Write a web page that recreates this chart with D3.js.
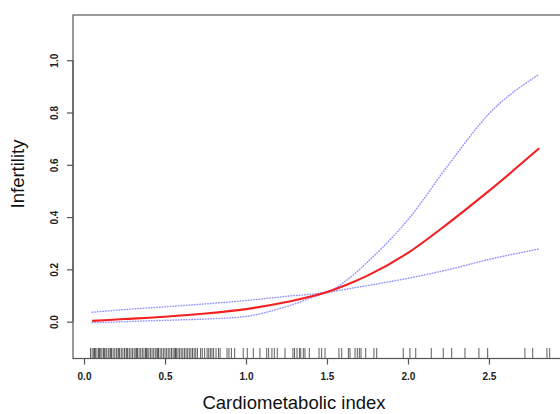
<!DOCTYPE html>
<html>
<head>
<meta charset="utf-8">
<script src="https://cdn.jsdelivr.net/npm/d3@7/dist/d3.min.js"></script>
<style>
  html, body { margin: 0; padding: 0; background: #fff; }
  svg { display: block; }
</style>
</head>
<body>
<div id="chart"></div>
<script>
// ---- data ----
const fitX   = [0.05, 0.25, 0.5, 0.75, 1.0, 1.25, 1.5, 1.625, 1.75, 2.0, 2.25, 2.5, 2.81]
const fitY   = [0.003, 0.010, 0.019, 0.031, 0.048, 0.075, 0.113, 0.142, 0.176, 0.263, 0.377, 0.500, 0.663]
const upperY = [0.036, 0.046, 0.057, 0.068, 0.081, 0.097, 0.114, 0.160, 0.228, 0.390, 0.600, 0.795, 0.946]
const lowerY = [-0.004, 0.000, 0.005, 0.010, 0.020, 0.058, 0.110, 0.125, 0.138, 0.166, 0.199, 0.238, 0.278]

const rugX = [
  0.04, 0.05, 0.06, 0.065, 0.07, 0.08, 0.09, 0.095, 0.10, 0.11, 0.12, 0.125, 0.13, 0.14, 0.15, 0.16,
  0.165, 0.17, 0.18, 0.19, 0.20, 0.21, 0.215, 0.22, 0.23, 0.24, 0.25, 0.26, 0.265, 0.27, 0.28, 0.29,
  0.30, 0.31, 0.32, 0.325, 0.33, 0.34, 0.35, 0.36, 0.37, 0.38, 0.385, 0.39, 0.40, 0.41, 0.42, 0.43,
  0.44, 0.45, 0.455, 0.46, 0.47, 0.48, 0.49, 0.50, 0.51, 0.52, 0.53, 0.54, 0.55, 0.56, 0.565, 0.57,
  0.58, 0.59, 0.60, 0.61, 0.62, 0.63, 0.64, 0.65, 0.66, 0.67, 0.68, 0.69, 0.70,
  0.72, 0.73, 0.745, 0.76, 0.77, 0.78, 0.79, 0.80, 0.815, 0.83, 0.84,
  0.883, 0.895, 0.91, 0.93, 0.983, 1.008, 1.045, 1.086,
  1.128, 1.14, 1.16, 1.175, 1.193, 1.241, 1.29, 1.30, 1.315, 1.33, 1.338, 1.354, 1.364,
  1.391, 1.451, 1.467, 1.488, 1.574, 1.591, 1.632, 1.642, 1.673, 1.687, 1.70, 1.71, 1.739,
  1.79, 1.807, 1.971, 2.012, 2.048, 2.144, 2.218, 2.270, 2.352, 2.438, 2.492, 2.722, 2.770, 2.858, 2.875
]

const xTicks = [0.0, 0.5, 1.0, 1.5, 2.0, 2.5]
const yTicks = [0.0, 0.2, 0.4, 0.6, 0.8, 1.0]

// ---- layout ----
const width = 560
const height = 414
const plot = { left: 73, top: 15, right: 568, bottom: 358.5 }
const font = '"Liberation Sans", Arial, sans-serif'

const x = d3.scaleLinear().domain([-0.068, 2.988]).range([plot.left, plot.right])
const y = d3.scaleLinear().domain([-0.141, 1.173]).range([plot.bottom, plot.top])

const svg = d3.select('#chart').append('svg')
  .attr('width', width).attr('height', height)

// curves
const line = d3.line().curve(d3.curveMonotoneX)

function drawCurve(ys, color, widthPx, dash) {
  const p = svg.append('path')
    .datum(fitX.map((v, i) => [x(v), y(ys[i])]))
    .attr('d', line)
    .attr('fill', 'none')
    .attr('stroke', color)
    .attr('stroke-width', widthPx)
  if (dash) p.attr('stroke-dasharray', dash).attr('stroke-linecap', 'round')
}

drawCurve(upperY, '#9494ff', 1.5, '0.5,2.2')
drawCurve(lowerY, '#9494ff', 1.5, '0.5,2.2')
drawCurve(fitY, '#f22020', 2.1, null)

// rug
svg.append('g').selectAll('line')
  .data(rugX)
  .join('line')
  .attr('x1', d => x(d)).attr('x2', d => x(d))
  .attr('y1', plot.bottom - 10.5).attr('y2', plot.bottom)
  .attr('stroke', '#333').attr('stroke-width', 0.8)

// box
svg.append('rect')
  .attr('x', plot.left).attr('y', plot.top)
  .attr('width', plot.right - plot.left).attr('height', plot.bottom - plot.top)
  .attr('fill', 'none').attr('stroke', '#555').attr('stroke-width', 1.2)

// x axis
const xAxis = svg.append('g')
  .attr('transform', `translate(0,${plot.bottom})`)
  .call(d3.axisBottom(x).tickValues(xTicks).tickSize(6).tickFormat(d3.format('.1f')))
xAxis.select('.domain')
  .attr('d', `M${x(xTicks[0])},0H${x(xTicks[xTicks.length - 1])}`)
  .attr('stroke', '#555').attr('stroke-width', 1.2)
xAxis.selectAll('.tick line').attr('stroke', '#555').attr('stroke-width', 1.2)
xAxis.selectAll('.tick text')
  .attr('y', 14).attr('dy', '0.71em')
  .attr('fill', '#222').attr('font-size', '10px').attr('font-weight', 'bold')
  .attr('font-family', font)

// y axis
const yAxis = svg.append('g')
  .attr('transform', `translate(${plot.left},0)`)
  .call(d3.axisLeft(y).tickValues(yTicks).tickSize(6).tickFormat(d3.format('.1f')))
yAxis.select('.domain')
  .attr('d', `M0,${y(yTicks[0])}V${y(yTicks[yTicks.length - 1])}`)
  .attr('stroke', '#555').attr('stroke-width', 1.2)
yAxis.selectAll('.tick line').attr('stroke', '#555').attr('stroke-width', 1.2)
yAxis.selectAll('.tick text')
  .attr('x', null).attr('dy', null)
  .attr('transform', 'translate(-15,0) rotate(-90)')
  .attr('text-anchor', 'middle')
  .attr('fill', '#222').attr('font-size', '10px').attr('font-weight', 'bold')
  .attr('font-family', font)

// axis titles
svg.append('text')
  .attr('x', 294).attr('y', 409)
  .attr('text-anchor', 'middle')
  .attr('font-size', '18.5px').attr('font-family', font).attr('fill', '#111')
  .text('Cardiometabolic index')

svg.append('text')
  .attr('transform', 'translate(24,174) rotate(-90)')
  .attr('text-anchor', 'middle')
  .attr('font-size', '18.5px').attr('font-family', font).attr('fill', '#111')
  .text('Infertility')
</script>
</body>
</html>
